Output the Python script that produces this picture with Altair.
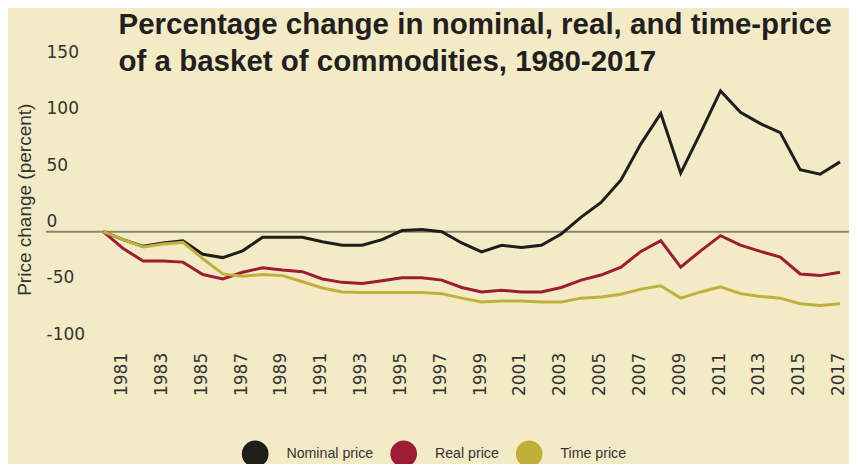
import altair as alt
import pandas as pd

years = list(range(1980, 2018))
nominal = [0, -7, -13, -10, -8, -20, -23, -17, -5, -5, -5, -9, -12, -12, -7, 1, 2, 0,
           -10, -18, -12, -14, -12, -2, 13, 26, 46, 78, 105, 52, 88, 125, 106, 96, 88,
           55, 51, 62]
real = [0, -15, -26, -26, -27, -38, -42, -36, -32, -34, -35.5, -42, -45, -46, -43.5,
        -41, -41, -43, -49.5, -53.5, -52, -53.5, -53.5, -49.5, -43, -38.5, -31.5, -17.5,
        -8, -31.5, -17, -3.5, -12, -17.5, -22.5, -37.5, -39, -36]
time_p = [0, -7, -13.5, -11, -9.5, -24, -37.5, -39.5, -38, -39, -44.5, -50, -53.5, -54,
          -54, -54, -54, -55, -59, -62.5, -61.5, -61.5, -62.5, -62.5, -59, -58, -55.5,
          -51, -48, -59, -53.5, -49, -55, -57.5, -59, -64, -65.5, -64]
series_names = ["Nominal price", "Real price", "Time price"]
series_colors = ["#1e1e1c", "#9c1c34", "#c0b03a"]
y_ticks = [-100, -50, 0, 50, 100, 150]
x_ticks = list(range(1981, 2018, 2))
title_lines = ["Percentage change in nominal, real, and time-price",
               "of a basket of commodities, 1980-2017"]

rows = []
for name, vals in zip(series_names, [nominal, real, time_p]):
    for yr, v in zip(years, vals):
        rows.append({"year": yr, "value": v, "series": name})
df = pd.DataFrame(rows)

W = 803
H = 281.5

x_scale = alt.Scale(domain=[1977.122, 2017.452], nice=False, zero=False)
y_scale = alt.Scale(domain=[-100, 150], nice=False, zero=False)

x_axis = alt.Axis(values=x_ticks, format="d", title=None, labelAngle=270,
                  labelAlign="right", labelBaseline="middle", labelPadding=8,
                  labelOffset=-1.5,
                  ticks=False, tickSize=0, domain=False, grid=False,
                  labelFlush=False, labelOverlap=False, labelBound=False,
                  labelFont="DejaVu Sans", labelFontSize=17, labelColor="#333333")
y_axis = alt.Axis(values=y_ticks, title="Price change (percent)",
                  labelExpr="toString(datum.value)",
                  labelAlign="left", labelPadding=0, labelBaseline="alphabetic",
                  labelOffset=-5.3, ticks=False, tickSize=0, domain=False,
                  grid=False, labelFont="DejaVu Sans", labelFontSize=17,
                  labelColor="#333333", labelFlush=False, labelOverlap=False,
                  titleFont="Liberation Sans", titleFontSize=19,
                  titleFontWeight="normal", titleColor="#333333",
                  titleAngle=270, titleAlign="center",
                  titleBaseline="alphabetic", titleX=-15.5, titleY=136.4)
x_enc = alt.X("year:Q", scale=x_scale, axis=x_axis)
y_enc = alt.Y("value:Q", scale=y_scale, axis=y_axis)
legend = alt.Legend(title=None, orient="none", legendX=195.7, legendY=377.5,
                    direction="horizontal", symbolType="circle", symbolSize=713,
                    symbolStrokeWidth=0, symbolOpacity=1, labelFont="Liberation Sans",
                    labelFontSize=14.2, labelColor="#333333", labelOffset=17.7,
                    columnPadding=16.5, padding=0)
color_enc = alt.Color("series:N",
                      scale=alt.Scale(domain=series_names, range=series_colors),
                      legend=legend)

zero_rule = alt.Chart(pd.DataFrame({"z": [0]})).mark_rule(
    color="#8a8670", strokeWidth=2
).encode(
    y=alt.Y("z:Q", scale=y_scale, axis=y_axis),
    x=alt.value(0),
    x2=alt.value(W),
)

lines = alt.Chart(df).mark_line(strokeWidth=3, strokeJoin="miter").encode(
    x=x_enc, y=y_enc, color=color_enc,
)

legend_points = alt.Chart(df).mark_circle(opacity=0).encode(
    x=x_enc, y=y_enc, color=color_enc,
)

chart = alt.layer(zero_rule, lines, legend_points).properties(
    width=W,
    height=H,
    padding={"left": 38, "top": 54.8, "right": 0, "bottom": 125.7},
    autosize=alt.AutoSizeParams(type="none"),
    background="#f3ebc6",
    title=alt.TitleParams(text=title_lines, anchor="start", frame="group", dx=72.5,
                          dy=38, font="Liberation Sans", fontSize=29.5,
                          fontWeight="bold", color="#231f20", lineHeight=37),
).configure_view(stroke=None)

chart.save("out.html", embed_options={"renderer": "svg", "actions": False})
